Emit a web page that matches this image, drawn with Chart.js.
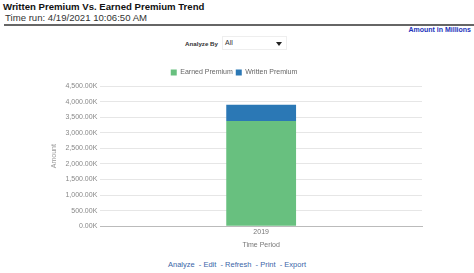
<!DOCTYPE html>
<html>
<head>
<meta charset="utf-8">
<script src="https://cdn.jsdelivr.net/npm/chart.js@4"></script>
<style>
  body { margin: 0; background: #fff; font-family: "Liberation Sans", Arial, sans-serif; width: 474px; height: 273px; overflow: hidden; position: relative; }
  .title { position: absolute; left: 3px; top: 1px; font-size: 9.6px; font-weight: bold; color: #111; }
  .run { position: absolute; left: 5px; top: 12px; font-size: 9.6px; color: #333; }
  .rule { position: absolute; left: 4px; right: 0; top: 24px; height: 2px; background: #666; }
  .units { position: absolute; right: 3px; top: 26px; font-size: 7px; font-weight: bold; color: #2233bb; }
  .analyze { position: absolute; left: 185px; top: 40px; font-size: 6.2px; font-weight: bold; color: #333; }
  .sel { position: absolute; left: 222px; top: 36px; width: 65px; height: 14px; border: 1px solid #eee; box-sizing: border-box; font-size: 7px; color: #333; }
  .sel span { position: absolute; left: 2px; top: 2px; }
  .sel i { position: absolute; right: 4px; top: 5px; width: 0; height: 0; border-left: 3px solid transparent; border-right: 3px solid transparent; border-top: 4px solid #222; }
  .chartbox { position: absolute; left: 46px; top: 66px; width: 378px; height: 185px; }
  .links { position: absolute; left: 0; width: 474px; top: 260px; text-align: center; font-size: 7.5px; color: #3a66a8; }
</style>
</head>
<body>
<div class="title">Written Premium Vs. Earned Premium Trend</div>
<div class="run">Time run: 4/19/2021 10:06:50 AM</div>
<div class="rule"></div>
<div class="units">Amount in Millions</div>
<div class="analyze">Analyze By</div>
<div class="sel"><span>All</span><i></i></div>
<div class="chartbox"><canvas id="chart"></canvas></div>
<div class="links">Analyze &nbsp;- Edit &nbsp;- Refresh &nbsp;- Print &nbsp;- Export</div>
<script>
// values in thousands
const periods = ['2019'];
const earnedPremium = [3375];
const writtenPremium = [525];

const fmt = v => v.toLocaleString('en-US', { minimumFractionDigits: 2, maximumFractionDigits: 2 }) + 'K';

const ctx = document.getElementById('chart').getContext('2d');
new Chart(ctx, {
  type: 'bar',
  data: {
    labels: periods,
    datasets: [
      { label: 'Earned Premium', data: earnedPremium, backgroundColor: '#68c07f' },
      { label: 'Written Premium', data: writtenPremium, backgroundColor: '#2b78b5' }
    ]
  },
  options: {
    responsive: true,
    maintainAspectRatio: false,
    animation: false,
    layout: { padding: { right: 2 } },
    plugins: {
      legend: {
        labels: { boxWidth: 6, boxHeight: 6, padding: 3, color: '#666', font: { size: 7 } }
      },
      tooltip: { enabled: false }
    },
    datasets: { bar: { barPercentage: 0.217, categoryPercentage: 1 } },
    scales: {
      x: {
        stacked: true,
        grid: { display: false, drawTicks: false },
        border: { color: '#bbb' },
        ticks: { color: '#777', font: { size: 7 }, padding: 2 },
        title: { display: true, text: 'Time Period', color: '#777', font: { size: 7 }, padding: 2 }
      },
      y: {
        stacked: true,
        min: 0,
        max: 4500,
        grid: { color: '#e6e6e6', drawTicks: false },
        border: { display: false },
        ticks: { stepSize: 500, color: '#888', font: { size: 7 }, padding: 3, callback: v => fmt(v) },
        title: { display: true, text: 'Amount', color: '#999', font: { size: 7 }, padding: 4 }
      }
    }
  }
});
</script>
</body>
</html>
